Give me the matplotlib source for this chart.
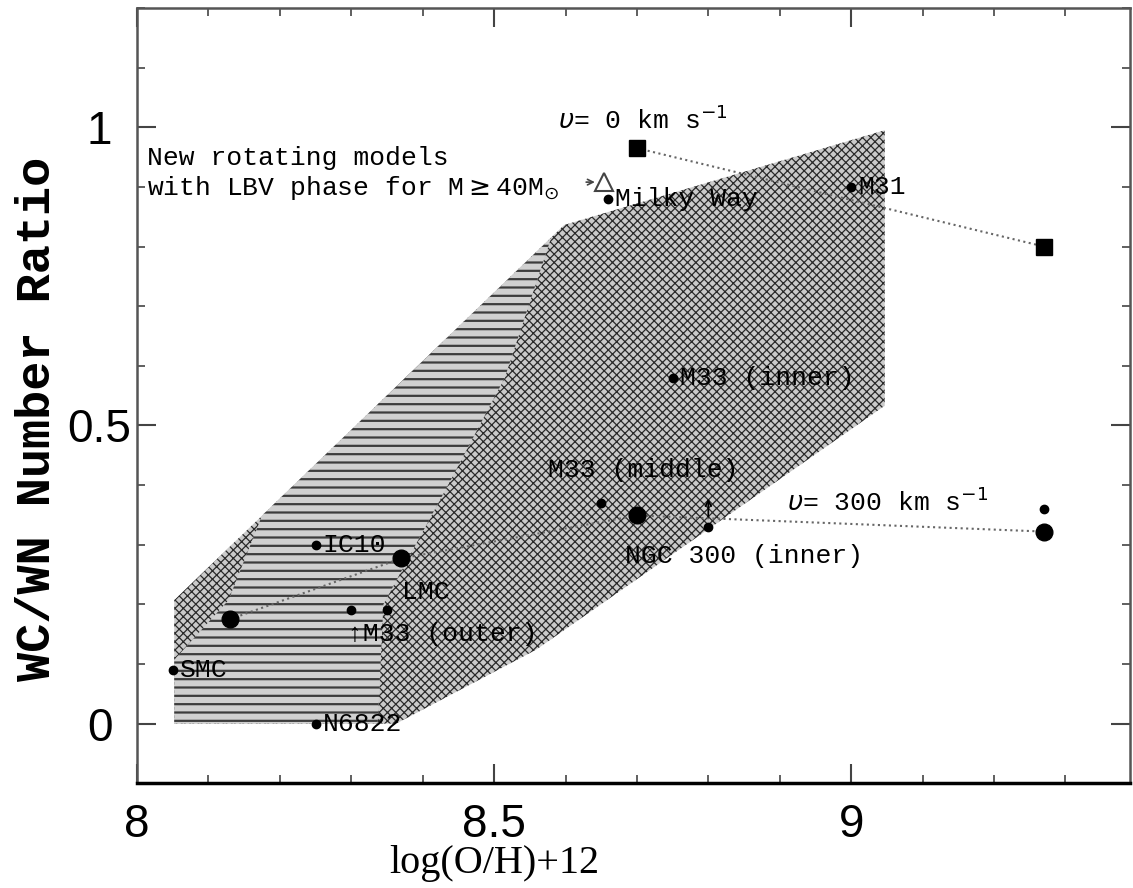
import numpy as np
import matplotlib
matplotlib.use("Agg")
import matplotlib.pyplot as plt
from matplotlib.patches import Polygon
from matplotlib.ticker import MultipleLocator, FuncFormatter

# ============================================================
# DATA
# ============================================================
obs_names = ["SMC", "N6822", "IC10", "M33 (outer)", "LMC", "M33 (middle)",
             "Milky Way", "M33 (inner)", "NGC 300 (inner)", "M31", ""]
obs_x = [8.05, 8.25, 8.25, 8.30, 8.35, 8.65, 8.66, 8.75, 8.80, 9.00, 9.27]
obs_y = [0.09, 0.00, 0.30, 0.19, 0.19, 0.37, 0.88, 0.58, 0.33, 0.90, 0.36]

# rotating models, v = 300 km/s
v300_x = [8.13, 8.37, 8.70, 9.27]
v300_y = [0.175, 0.277, 0.349, 0.322]

# non-rotating models, v = 0 km/s
v0_x = [8.70, 9.27]
v0_y = [0.965, 0.80]

# new rotating models with LBV phase
lbv_x = [8.654]
lbv_y = [0.908]

# hatched areas (outline of the diagonal region, and the horizontal sub-region)
diag_x = [8.052, 8.363, 8.559, 9.047, 9.047, 8.598, 8.052]
diag_y = [0.0, 0.0, 0.124, 0.533, 0.995, 0.836, 0.207]
horiz_x = [8.052, 8.337, 8.345, 8.440, 8.515, 8.580, 8.175, 8.128, 8.052]
horiz_y = [0.0, 0.0, 0.200, 0.410, 0.580, 0.815, 0.349, 0.207, 0.107]

# label offsets in points (layout only)
label_off = {
    "SMC": (5, 0), "N6822": (5, 0), "IC10": (5, 0), "LMC": (11, 13),
    "M33 (outer)": (-3, -17), "M33 (middle)": (-38, 24), "Milky Way": (5, 0),
    "M33 (inner)": (5, 0), "NGC 300 (inner)": (-60, -21), "M31": (5, 0),
}

# ============================================================
# PLOTTING
# ============================================================
mono = ["Liberation Mono", "DejaVu Sans"]

fig = plt.figure(figsize=(11.33, 8.88), dpi=100)
ax = fig.add_axes([0.121, 0.118, 0.876, 0.873])

with plt.rc_context({"hatch.linewidth": 0.9}):
    diag = Polygon(np.column_stack([diag_x, diag_y]), closed=True, facecolor="#cacaca",
                   edgecolor="#2a2a2a", linewidth=0, hatch="xxxx", zorder=1)
    ax.add_patch(diag)
with plt.rc_context({"hatch.linewidth": 1.6}):
    horiz = Polygon(np.column_stack([horiz_x, horiz_y]), closed=True, facecolor="#d0d0d0",
                    edgecolor="#3c3c3c", linewidth=0, hatch="--", zorder=2)
    ax.add_patch(horiz)

ax.plot(v300_x, v300_y, color="#666666", ls=":", lw=1.5, zorder=3)
ax.plot(v300_x, v300_y, "o", color="black", ms=12, ls="none", zorder=5)
ax.plot(v0_x, v0_y, color="#666666", ls=":", lw=1.5, zorder=3)
ax.plot(v0_x, v0_y, "s", color="black", ms=12, ls="none", zorder=5)
ax.plot(lbv_x, lbv_y, "^", mfc="none", mec="#444444", mew=1.5, ms=13, ls="none", zorder=5)
ax.plot(obs_x, obs_y, "o", color="black", ms=6, ls="none", zorder=5)

for name, x, y in zip(obs_names, obs_x, obs_y):
    if not name:
        continue
    dx, dy = label_off[name]
    txt = name
    if name == "M33 (outer)":
        txt = "\u2191" + name
    ax.annotate(txt, (x, y), xytext=(dx, dy), textcoords="offset points",
                ha="left", va="center", fontsize=19, family=mono, zorder=6)

# NGC 300 upward arrow (lower limit)
ax.annotate("", xy=(8.80, 0.382), xytext=(8.80, 0.342),
            arrowprops=dict(arrowstyle="->", color="black", lw=1.3), zorder=6)

ax.text(8.59, 1.012, r"$\upsilon$= 0 km s$^{-1}$", fontsize=19, family=mono,
        ha="left", va="center", zorder=6)
ax.text(8.91, 0.372, r"$\upsilon$= 300 km s$^{-1}$", fontsize=19, family=mono,
        ha="left", va="center", zorder=6)
ax.text(8.014, 0.948, "New rotating models", fontsize=19, family=mono,
        ha="left", va="center", zorder=6)
ax.text(8.014, 0.898, r"with LBV phase for M$\geq$40M$_{\odot}$", fontsize=19,
        family=mono, ha="left", va="center", zorder=6)
ax.annotate("", xy=(8.645, 0.908), xytext=(8.625, 0.908),
            arrowprops=dict(arrowstyle="->", color="#444444", lw=1.2), zorder=6)

ax.set_xlim(8.0, 9.39)
ax.set_ylim(-0.1, 1.2)
ax.xaxis.set_major_locator(MultipleLocator(0.5))
ax.xaxis.set_minor_locator(MultipleLocator(0.1))
ax.yaxis.set_major_locator(MultipleLocator(0.5))
ax.yaxis.set_minor_locator(MultipleLocator(0.1))
fmt = FuncFormatter(lambda v, p: f"{v:g}")
ax.xaxis.set_major_formatter(fmt)
ax.yaxis.set_major_formatter(fmt)

ax.tick_params(which="both", direction="in", top=True, right=True, color="#444444")
ax.tick_params(which="major", length=14, width=1.5, labelsize=33, labelfontfamily="Liberation Sans")
ax.tick_params(which="minor", length=6, width=1.2)
ax.tick_params(axis="x", which="major", pad=14)
ax.tick_params(axis="y", which="major", pad=27)
for lab in ax.get_yticklabels():
    lab.set_horizontalalignment("center")

for side in ["left", "top", "right"]:
    ax.spines[side].set_color("#555555")
    ax.spines[side].set_linewidth(1.8)
ax.spines["bottom"].set_color("black")
ax.spines["bottom"].set_linewidth(2.5)

ax.set_xlabel("log(O/H)+12", fontsize=29, family="Liberation Serif")
ax.xaxis.set_label_coords(0.36, -0.08)
ax.set_ylabel("WC/WN Number Ratio", fontsize=35, family="Liberation Mono",
              fontweight="bold")
ax.yaxis.set_label_coords(-0.078, 0.47)

plt.savefig("out.png", dpi=100)
